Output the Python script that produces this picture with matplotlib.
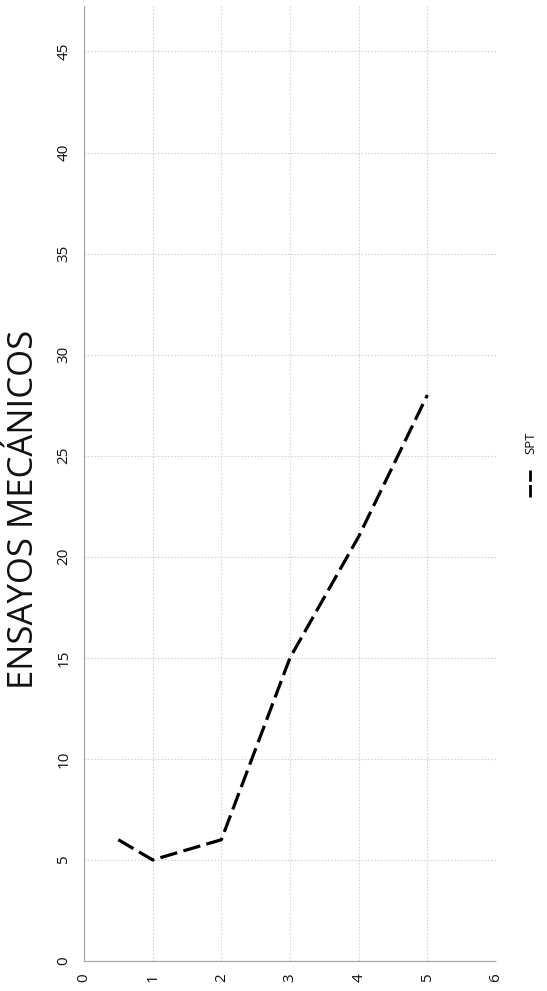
import matplotlib.pyplot as plt
from matplotlib.lines import Line2D

# depth (m) vs SPT blow count
profundidad = [0.5, 1, 2, 3, 4, 5]
spt = [6, 5, 6, 15, 21, 28]
x_ticks = [0, 1, 2, 3, 4, 5, 6]
y_ticks = [0, 5, 10, 15, 20, 25, 30, 35, 40, 45]

plt.rcParams['font.family'] = ['Open Sans', 'DejaVu Sans']

fig = plt.figure(figsize=(5.47, 9.91), dpi=100)
ax = fig.add_axes([84/547, 30/991, 412/547, 956/991])

ax.plot(profundidad, spt, color='black', linewidth=2.3, linestyle=(0, (5.5, 2.0)),
        solid_capstyle='butt', dash_capstyle='butt')

ax.set_xlim(0, 6)
ax.set_ylim(0, 47.3)
ax.set_xticks(x_ticks)
ax.set_yticks(y_ticks)
ax.set_xticklabels([str(v) for v in x_ticks], rotation=90, fontsize=11, color='#111111')
ax.set_yticklabels([str(v) for v in y_ticks], rotation=90, fontsize=11, color='#111111',
                   va='center')
ax.tick_params(length=0, pad=9)

ax.grid(True, color='#d4d4d4', linestyle=(0, (1.5, 1.5)), linewidth=0.8)
for s in ['top', 'right']:
    ax.spines[s].set_visible(False)
for s in ['left', 'bottom']:
    ax.spines[s].set_color('#a8a8a8')
    ax.spines[s].set_linestyle((0, (1.5, 1)))
    ax.spines[s].set_linewidth(0.9)

fig.text(24/547, 1 - 509/991, 'ENSAYOS MECÁNICOS', rotation=90, fontsize=25,
         ha='center', va='center', color='#111111')

# legend drawn rotated
fig.add_artist(Line2D([530/547, 530/547], [1 - 497/991, 1 - 470/991],
                      color='black', linewidth=2.0, linestyle=(0, (4.5, 1.2)),
                      transform=fig.transFigure))
fig.text(531/547, 1 - 443/991, 'SPT', rotation=90, fontsize=9.5,
         ha='center', va='center', color='#111111')

fig.savefig('out.png', dpi=100)
